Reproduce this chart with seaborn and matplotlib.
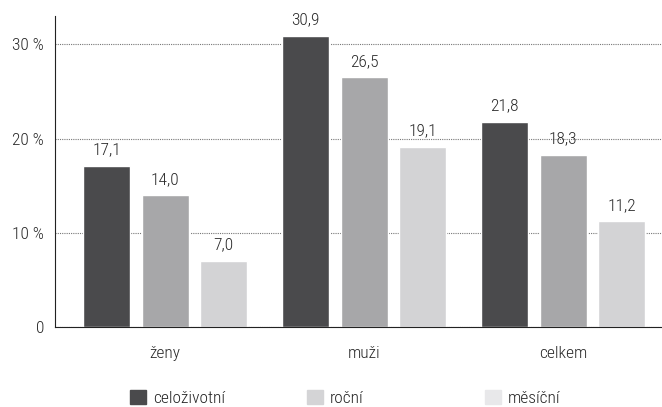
import pandas as pd
import matplotlib
matplotlib.use("Agg")
import matplotlib.pyplot as plt
import matplotlib.patches as mpatches
import seaborn as sns

groups = ["ženy", "muži", "celkem"]
series = ["celoživotní", "roční", "měsíční"]
celozivotni = [17.1, 30.9, 21.8]
rocni = [14.0, 26.5, 18.3]
mesicni = [7.0, 19.1, 11.2]

bar_colors = ["#4a4a4c", "#a7a7a9", "#d3d3d5"]
legend_colors = ["#4a4a4c", "#d4d4d6", "#e8e8ea"]

df = pd.DataFrame({
    "skupina": groups * 3,
    "typ": [s for s in series for _ in groups],
    "hodnota": celozivotni + rocni + mesicni,
})

sns.set_style("white")
plt.rcParams["font.family"] = ["Liberation Sans Narrow", "Roboto Condensed", "DejaVu Sans"]
plt.rcParams["font.stretch"] = "condensed"
plt.rcParams["font.weight"] = "light"

fig = plt.figure(figsize=(6.62, 4.07), dpi=100)
ax = fig.add_axes([55 / 662, 80 / 407, 607 / 662, 311 / 407])

sns.barplot(data=df, x="skupina", y="hodnota", hue="typ", order=groups,
            hue_order=series, palette=bar_colors, width=0.88, gap=0.195,
            saturation=1, legend=False, ax=ax)

for c in ax.containers:
    ax.bar_label(c, labels=[f"{v:.1f}".replace(".", ",") for v in c.datavalues],
                 padding=6, fontsize=12.5, color="#2a2a2a")

ax.set_xlim(-0.553, 2.497)
ax.set_ylim(0, 33)
ax.set_yticks([0, 10, 20, 30])
ax.set_yticklabels(["0", "10 %", "20 %", "30 %"])
ax.yaxis.grid(True, linestyle=(0, (1, 1)), color="#777777", linewidth=0.8)
ax.set_axisbelow(True)
ax.set_xlabel("")
ax.set_ylabel("")
for s in ["top", "right"]:
    ax.spines[s].set_visible(False)
ax.spines["left"].set_color("#222222")
ax.spines["bottom"].set_color("#222222")
ax.tick_params(axis="both", length=0, labelsize=12.5, colors="#2a2a2a")
ax.tick_params(axis="x", pad=14)
ax.tick_params(axis="y", pad=8)

# legend, one entry at a time to keep the original spacing
legend_x = [130 / 662, 307 / 662, 485 / 662]
for name, col, lx in zip(series, legend_colors, legend_x):
    h = mpatches.Patch(color=col, label=name)
    fig.legend(handles=[h], loc="center left", bbox_to_anchor=(lx, 9 / 407),
               frameon=False, fontsize=12.5, handlelength=0.92, handleheight=0.92,
               handletextpad=0.4, borderpad=0, borderaxespad=0)

fig.savefig("out.png", dpi=100)
